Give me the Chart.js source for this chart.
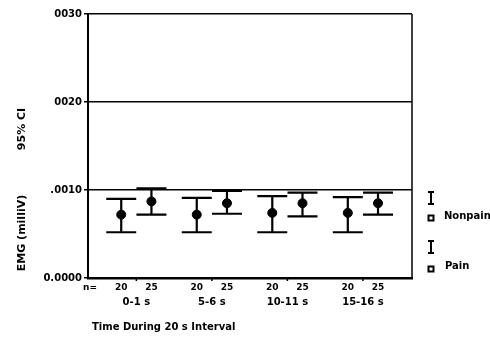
<!DOCTYPE html>
<html>
<head>
<meta charset="utf-8">
<script src="https://cdn.jsdelivr.net/npm/chart.js@4/dist/chart.umd.min.js"></script>
<style>
  html,body{margin:0;padding:0;background:#fff;}
  #wrap{width:490px;height:356px;position:relative;}
</style>
</head>
<body>
<div id="wrap"><canvas id="c" width="490" height="356"></canvas></div>
<script>
// ---- data ----
const categories = ["0-1 s", "5-6 s", "10-11 s", "15-16 s"];
const nonpainMean = [0.00072, 0.00072, 0.00074, 0.00074];
const nonpainLow  = [0.00052, 0.00052, 0.00052, 0.00052];
const nonpainHigh = [0.00090, 0.00091, 0.00093, 0.00092];
const painMean = [0.00087, 0.00085, 0.00085, 0.00085];
const painLow  = [0.00072, 0.00073, 0.00070, 0.00072];
const painHigh = [0.00102, 0.00099, 0.00097, 0.00097];
const nonpainN = ["20", "20", "20", "20"];
const painN    = ["25", "25", "25", "25"];
const yTickValues = [0, 0.001, 0.002, 0.003];
const yTickLabels = ["0.0000", ".0010", "0020", "0030"];
const seriesNames = ["Nonpain", "Pain"];

const OFF = 0.2;
const FONT = "bold 10px 'DejaVu Sans'";

const errorBars = {
  id: 'errorBars',
  afterDatasetsDraw(chart) {
    const ctx = chart.ctx, xs = chart.scales.x, ys = chart.scales.y;
    const sets = [[nonpainLow, nonpainHigh, -OFF], [painLow, painHigh, OFF]];
    ctx.save();
    ctx.strokeStyle = '#000';
    ctx.lineWidth = 2.2;
    sets.forEach(([lo, hi, off]) => {
      lo.forEach((l, i) => {
        const x = xs.getPixelForValue(i + off);
        const yl = ys.getPixelForValue(l), yh = ys.getPixelForValue(hi[i]);
        ctx.beginPath();
        ctx.moveTo(x, yl); ctx.lineTo(x, yh);
        ctx.moveTo(x - 15, yl); ctx.lineTo(x + 15, yl);
        ctx.moveTo(x - 15, yh); ctx.lineTo(x + 15, yh);
        ctx.stroke();
      });
    });
    const a = chart.chartArea;
    ctx.lineWidth = 1.5;
    ctx.beginPath();
    ctx.moveTo(a.right, a.top); ctx.lineTo(a.right, a.bottom);
    ctx.stroke();
    // small ticks below x axis at group centres
    ctx.lineWidth = 1.5;
    ctx.beginPath();
    categories.forEach((c, i) => {
      const x = xs.getPixelForValue(i);
      ctx.moveTo(x, a.bottom); ctx.lineTo(x, a.bottom + 3);
    });
    ctx.stroke();
    ctx.restore();
  },
  afterDraw(chart) {
    const ctx = chart.ctx, xs = chart.scales.x, a = chart.chartArea;
    ctx.save();
    ctx.fillStyle = '#000';
    ctx.strokeStyle = '#000';
    ctx.textBaseline = 'middle';
    ctx.textAlign = 'center';
    const yN = a.bottom + 10, yC = a.bottom + 24;
    ctx.font = "bold 9px 'DejaVu Sans'";
    ctx.fillText("n=", a.left + 2, yN);
    categories.forEach((c, i) => {
      ctx.font = "bold 9px 'DejaVu Sans'";
      ctx.fillText(nonpainN[i], xs.getPixelForValue(i - OFF), yN);
      ctx.fillText(painN[i], xs.getPixelForValue(i + OFF), yN);
      ctx.font = FONT;
      ctx.fillText(c, xs.getPixelForValue(i), yC);
    });
    // x title
    ctx.textAlign = 'left';
    ctx.font = "bold 10px 'DejaVu Sans'";
    ctx.fillText("Time During 20 s Interval", 92, 327);
    // y title
    ctx.save();
    ctx.translate(22, 0);
    ctx.rotate(-Math.PI / 2);
    ctx.textAlign = 'center';
    ctx.font = "bold 11px 'DejaVu Sans'";
    ctx.fillText("EMG (milliV)", -233, 0);
    ctx.fillText("95% CI", -129, 0);
    ctx.restore();
    // legend
    const lx = 431;
    const drawI = (yc) => {
      ctx.lineWidth = 2;
      ctx.beginPath();
      ctx.moveTo(lx, yc - 6); ctx.lineTo(lx, yc + 6);
      ctx.moveTo(lx - 3, yc - 6); ctx.lineTo(lx + 3, yc - 6);
      ctx.moveTo(lx - 3, yc + 6); ctx.lineTo(lx + 3, yc + 6);
      ctx.stroke();
    };
    const drawSq = (yc) => {
      ctx.lineWidth = 2;
      ctx.strokeRect(lx - 2.5, yc - 2.5, 5, 5);
    };
    drawI(198); drawSq(218);
    drawI(247); drawSq(269);
    ctx.textAlign = 'left';
    ctx.font = FONT;
    ctx.fillText(seriesNames[0], 444, 216);
    ctx.fillText(seriesNames[1], 445, 266);
    ctx.restore();
  }
};

new Chart(document.getElementById('c'), {
  type: 'scatter',
  data: {
    datasets: [
      { label: seriesNames[0], data: nonpainMean.map((v, i) => ({x: i - OFF, y: v})),
        backgroundColor: '#000', borderColor: '#000', pointRadius: 4.5, pointHoverRadius: 4.5 },
      { label: seriesNames[1], data: painMean.map((v, i) => ({x: i + OFF, y: v})),
        backgroundColor: '#000', borderColor: '#000', pointRadius: 4.5, pointHoverRadius: 4.5 }
    ]
  },
  options: {
    responsive: false,
    animation: false,
    events: [],
    layout: { padding: { left: 28, top: 14, right: 78, bottom: 0 } },
    plugins: { legend: { display: false }, tooltip: { enabled: false } },
    scales: {
      x: {
        type: 'linear', min: -0.64, max: 3.65,
        ticks: { display: false },
        grid: { display: false, drawTicks: false },
        border: { color: '#000', width: 2.5 },
        afterFit(s) { s.height = 78; }
      },
      y: {
        min: 0, max: 0.003,
        afterBuildTicks(s) { s.ticks = yTickValues.map(v => ({value: v})); },
        ticks: {
          callback: (v) => { const k = yTickValues.indexOf(v); return k >= 0 ? yTickLabels[k] : ''; },
          color: '#000', font: { family: 'DejaVu Sans', weight: 'bold', size: 10 }, padding: 2
        },
        grid: { color: '#000', lineWidth: 1.5, tickLength: 4 },
        border: { color: '#000', width: 2 },
        afterFit(s) { s.width = 60; }
      }
    }
  },
  plugins: [errorBars]
});
</script>
</body>
</html>
